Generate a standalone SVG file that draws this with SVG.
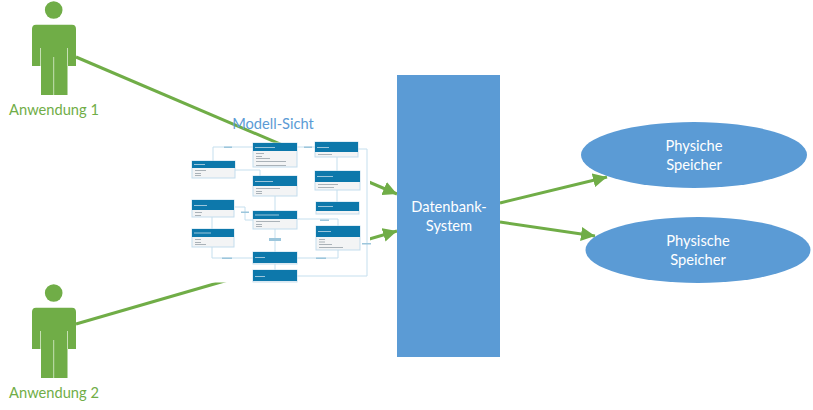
<svg xmlns="http://www.w3.org/2000/svg" width="813" height="410" viewBox="0 0 813 410">
<style>
text{font-family:Lato,"Liberation Sans",sans-serif}
.lbl{font-size:14.67px;fill:#70ad47;text-anchor:middle}
.wt{font-size:14.67px;fill:#fff;text-anchor:middle}
.p{fill:#70ad47}
.slit{fill:none;stroke:#c6e0b4;stroke-width:1}
.big{fill:#5b9bd5}
.g{stroke:#70ad47;stroke-width:3;fill:none}
.c{fill:#f3f4f5;stroke:#c3dded;stroke-width:1}
.h{fill:#0a78ab}
.t{fill:#9cc6dc}
.b{fill:#aab2b8}
.u{stroke:#c5dfee;stroke-width:1;fill:none}
</style>
<defs>
<filter id="soft" x="-5%" y="-5%" width="110%" height="110%"><feGaussianBlur stdDeviation="0.45"/></filter>
<marker id="ah" markerUnits="userSpaceOnUse" markerWidth="15" markerHeight="14" refX="14" refY="7" orient="auto"><path d="M0 0L14 7L0 14Z" fill="#70ad47"/></marker>
<g id="person">
<circle class="p" cx="53.7" cy="10" r="8.8"/>
<path class="p" d="M36 24.700H72Q76 24.700 76 29V66H67.500V95H41V66H32V29Q32 24.700 36 24.700Z"/>
<path class="slit" d="M40.500 48V66M67.500 48V66M53.700 57V95"/>
</g>
</defs>
<g id="connectors">
<path class="g" marker-end="url(#ah)" d="M76 57L397 194"/>
<path class="g" marker-end="url(#ah)" d="M76 324L397 231"/>
<path class="g" marker-end="url(#ah)" d="M500 203L607 177"/>
<path class="g" marker-end="url(#ah)" d="M500 222L595 236"/>
</g>
<rect id="model-bg" x="188" y="144" width="182" height="138.500" fill="#fff"/>
<g id="uml" filter="url(#soft)">
<g id="uml-connectors">
<path class="u" d="M253 147H213V161M297 147H315M235 170H260V176M275 196V211M235 207H245V220H253M297 219H338V226M212 217V229M212 247V258H253M297 258H338V250M275 229V252M275 264V270M297 276H367V149H358M337 157V171M337 190V202"/>
<rect x="224" y="146.500" width="8" height="1.500" class="t"/><rect x="304" y="146.500" width="8" height="1.500" class="t"/><rect x="241" y="211.500" width="8" height="1.500" class="t"/><rect x="320" y="219.500" width="9" height="1.500" class="t"/><rect x="222" y="257.500" width="10" height="1.500" class="t"/><rect x="316" y="257.500" width="10" height="1.500" class="t"/><rect x="362" y="243" width="9" height="1.500" class="t"/><rect x="269" y="238" width="12" height="3" class="t"/>
</g>
<g id="class-1"><rect class="c" x="253" y="143" width="44" height="24"/><rect class="h" x="253" y="143" width="44" height="8"/><rect class="t" x="255" y="147" width="20" height="1"/><path class="b" d="M256 153h8v1h-8zM256 156h6v1h-6zM256 158h14v1h-14zM256 161h30v1h-30zM256 165h30v1h-30z"/></g>
<g id="class-2"><rect class="c" x="315" y="142" width="43" height="15"/><rect class="h" x="315" y="142" width="43" height="10"/><rect class="t" x="317" y="147" width="12" height="1"/><rect class="b" x="318" y="154" width="14" height="1"/></g>
<g id="class-3"><rect class="c" x="192" y="161" width="43" height="17"/><rect class="h" x="192" y="161" width="43" height="7"/><rect class="t" x="194" y="164" width="11" height="1"/><path class="b" d="M195 170h11v1h-11zM195 173h6v1h-6zM195 175h6v1h-6z"/></g>
<g id="class-4"><rect class="c" x="253" y="176" width="44" height="20"/><rect class="h" x="253" y="176" width="44" height="10"/><rect class="t" x="255" y="181" width="18" height="1"/><path class="b" d="M256 188h24v1h-24zM256 191h6v1h-6zM256 193h6v1h-6z"/></g>
<g id="class-5"><rect class="c" x="315" y="171" width="45" height="19"/><rect class="h" x="315" y="171" width="45" height="11"/><rect class="t" x="317" y="176" width="16" height="1"/><path class="b" d="M318 184h20v1h-20zM318 187h16v1h-16z"/></g>
<g id="class-6"><rect class="c" x="192" y="200" width="42" height="17"/><rect class="h" x="192" y="200" width="42" height="10"/><rect class="t" x="194" y="205" width="13" height="1"/><path class="b" d="M195 212h7v1h-7zM195 215h6v1h-6z"/></g>
<g id="class-7"><rect class="c" x="192" y="229" width="42" height="18"/><rect class="h" x="192" y="229" width="42" height="8"/><rect class="t" x="194" y="232.500" width="17" height="1"/><path class="b" d="M195 239h6v1h-6zM195 242h6v1h-6zM195 244h11v1h-11z"/></g>
<g id="class-8"><rect class="c" x="253" y="211" width="44" height="18"/><rect class="h" x="253" y="211" width="44" height="8"/><rect class="t" x="255" y="214.500" width="24" height="1"/><path class="b" d="M256 221h24v1h-24zM256 224h6v1h-6zM256 226h6v1h-6z"/></g>
<g id="class-9"><rect class="c" x="316" y="202" width="43" height="12"/><rect class="h" x="316" y="202" width="43" height="9"/><rect class="t" x="318" y="206" width="15" height="1"/></g>
<g id="class-10"><rect class="c" x="316" y="226" width="44" height="24"/><rect class="h" x="316" y="226" width="44" height="11"/><rect class="t" x="318" y="231" width="13" height="1"/><path class="b" d="M319 239h6v1h-6zM319 241.500h6v1h-6zM319 244h13v1h-13zM319 247h24v1h-24z"/></g>
<g id="class-11"><rect class="c" x="253" y="252" width="44" height="12"/><rect class="h" x="253" y="252" width="44" height="11"/><rect class="t" x="255" y="257" width="10" height="1"/></g>
<g id="class-12"><rect class="c" x="253" y="270" width="44" height="12"/><rect class="h" x="253" y="270" width="44" height="11"/><rect class="t" x="255" y="276" width="10" height="1"/></g>
</g>
<g id="modell-sicht"><text x="273" y="129" font-size="14.67" fill="#5b9bd5" text-anchor="middle">Modell-Sicht</text></g>
<g id="anwendung-1"><use href="#person"/><text class="lbl" x="54" y="115">Anwendung 1</text></g>
<g id="anwendung-2"><use href="#person" y="283"/><text class="lbl" x="54" y="398">Anwendung 2</text></g>
<g id="datenbank"><rect class="big" x="397" y="75" width="103" height="282"/><text class="wt" x="449" y="212">Datenbank-</text><text class="wt" x="449" y="231">System</text></g>
<g id="speicher-1"><ellipse class="big" cx="694" cy="155" rx="113" ry="33"/><text class="wt" x="694" y="151">Physiche</text><text class="wt" x="694" y="170">Speicher</text></g>
<g id="speicher-2"><ellipse class="big" cx="698" cy="250" rx="112.500" ry="33"/><text class="wt" x="698" y="246">Physische</text><text class="wt" x="698" y="265">Speicher</text></g>
</svg>
